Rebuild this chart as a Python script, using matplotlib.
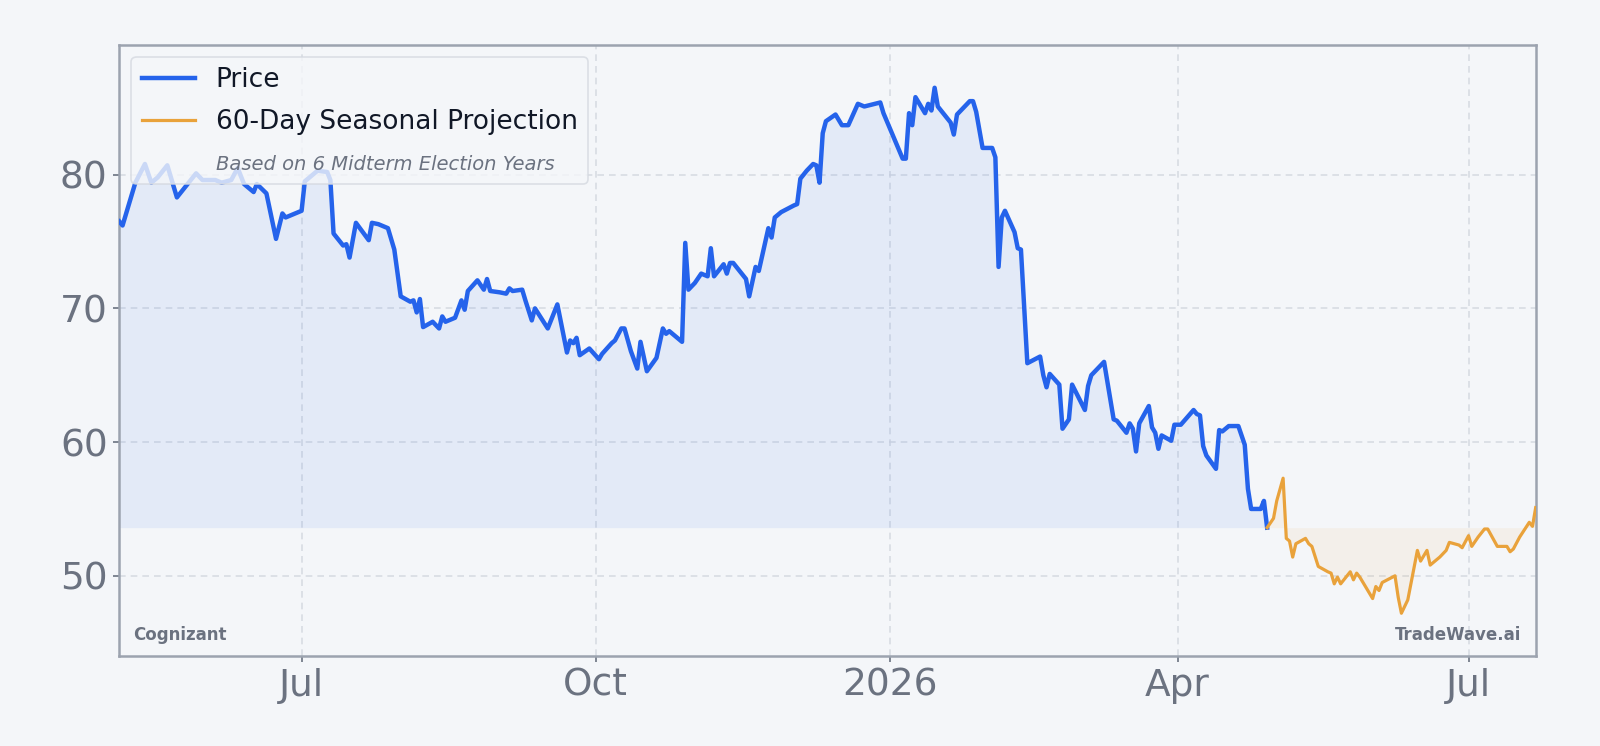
import numpy as np
import pandas as pd
import matplotlib
matplotlib.use("Agg")
import matplotlib.pyplot as plt
import matplotlib.dates as mdates
from matplotlib.lines import Line2D
from matplotlib.ticker import MultipleLocator, FuncFormatter

# price history
price_dates = [
    "2025-05-05", "2025-05-06", "2025-05-10", "2025-05-13", "2025-05-15", "2025-05-17",
    "2025-05-20", "2025-05-23", "2025-05-29", "2025-05-31", "2025-06-04", "2025-06-06",
    "2025-06-09", "2025-06-11", "2025-06-13", "2025-06-16", "2025-06-17", "2025-06-20",
    "2025-06-23", "2025-06-25", "2025-06-26", "2025-06-28", "2025-07-01", "2025-07-02",
    "2025-07-06", "2025-07-09", "2025-07-10", "2025-07-11", "2025-07-14", "2025-07-15",
    "2025-07-16", "2025-07-18", "2025-07-22", "2025-07-23", "2025-07-25", "2025-07-28",
    "2025-07-30", "2025-08-01", "2025-08-04", "2025-08-05", "2025-08-06", "2025-08-07",
    "2025-08-08", "2025-08-11", "2025-08-13", "2025-08-14", "2025-08-15", "2025-08-18",
    "2025-08-20", "2025-08-21", "2025-08-22", "2025-08-25", "2025-08-27", "2025-08-28",
    "2025-08-29", "2025-09-01", "2025-09-03", "2025-09-04", "2025-09-05", "2025-09-08",
    "2025-09-09", "2025-09-11", "2025-09-12", "2025-09-16", "2025-09-19", "2025-09-22",
    "2025-09-23", "2025-09-24", "2025-09-25", "2025-09-26", "2025-09-29", "2025-10-02",
    "2025-10-03", "2025-10-06", "2025-10-07", "2025-10-09", "2025-10-10", "2025-10-12",
    "2025-10-14", "2025-10-15", "2025-10-17", "2025-10-20", "2025-10-22", "2025-10-23",
    "2025-10-24", "2025-10-28", "2025-10-29", "2025-10-30", "2025-11-01", "2025-11-03",
    "2025-11-05", "2025-11-06", "2025-11-07", "2025-11-10", "2025-11-11", "2025-11-12",
    "2025-11-13", "2025-11-17", "2025-11-18", "2025-11-20", "2025-11-21", "2025-11-24",
    "2025-11-25", "2025-11-26", "2025-11-28", "2025-12-02", "2025-12-03", "2025-12-04",
    "2025-12-06", "2025-12-08", "2025-12-09", "2025-12-10", "2025-12-11", "2025-12-12",
    "2025-12-15", "2025-12-17", "2025-12-19", "2025-12-22", "2025-12-24", "2025-12-29",
    "2025-12-30", "2026-01-05", "2026-01-06", "2026-01-07", "2026-01-08", "2026-01-09",
    "2026-01-12", "2026-01-13", "2026-01-14", "2026-01-15", "2026-01-16", "2026-01-20",
    "2026-01-21", "2026-01-22", "2026-01-26", "2026-01-27", "2026-01-28", "2026-01-30",
    "2026-02-02", "2026-02-03", "2026-02-04", "2026-02-05", "2026-02-06", "2026-02-09",
    "2026-02-10", "2026-02-11", "2026-02-13", "2026-02-17", "2026-02-18", "2026-02-19",
    "2026-02-20", "2026-02-23", "2026-02-24", "2026-02-26", "2026-02-27", "2026-03-03",
    "2026-03-04", "2026-03-05", "2026-03-09", "2026-03-12", "2026-03-13", "2026-03-16",
    "2026-03-17", "2026-03-18", "2026-03-19", "2026-03-20", "2026-03-23", "2026-03-24",
    "2026-03-25", "2026-03-26", "2026-03-27", "2026-03-30", "2026-03-31", "2026-04-02",
    "2026-04-06", "2026-04-07", "2026-04-08", "2026-04-09", "2026-04-10", "2026-04-13",
    "2026-04-14", "2026-04-15", "2026-04-17", "2026-04-20", "2026-04-22", "2026-04-23",
    "2026-04-24", "2026-04-27", "2026-04-28", "2026-04-29",
]
price_vals = [
    76.5, 76.2, 79.4, 80.8, 79.4, 79.8,
    80.7, 78.3, 80.1, 79.6, 79.6, 79.4,
    79.6, 80.5, 79.3, 78.7, 79.3, 78.6,
    75.2, 77.1, 76.8, 77.0, 77.3, 79.5,
    80.3, 80.2, 79.6, 75.6, 74.7, 74.8,
    73.8, 76.4, 75.1, 76.4, 76.3, 76.0,
    74.4, 70.9, 70.5, 70.6, 69.7, 70.7,
    68.6, 69.0, 68.5, 69.4, 69.0, 69.3,
    70.6, 69.9, 71.3, 72.1, 71.4, 72.2,
    71.3, 71.2, 71.1, 71.5, 71.3, 71.4,
    70.6, 69.1, 70.0, 68.5, 70.3, 66.7,
    67.6, 67.4, 67.8, 66.5, 67.0, 66.2,
    66.6, 67.4, 67.6, 68.5, 68.5, 66.8,
    65.5, 67.5, 65.3, 66.3, 68.5, 68.1,
    68.3, 67.5, 74.9, 71.4, 71.9, 72.6,
    72.4, 74.5, 72.4, 73.3, 72.6, 73.4,
    73.4, 72.2, 70.9, 73.1, 72.8, 76.0,
    75.3, 76.8, 77.2, 77.7, 77.8, 79.7,
    80.3, 80.8, 80.7, 79.4, 83.1, 84.0,
    84.5, 83.7, 83.7, 85.3, 85.1, 85.4,
    84.6, 81.2, 81.2, 84.6, 83.7, 85.8,
    84.6, 85.3, 84.8, 86.5, 85.1, 83.9,
    83.0, 84.5, 85.5, 85.5, 84.7, 82.0,
    82.0, 81.3, 73.1, 76.8, 77.3, 75.7,
    74.5, 74.4, 65.9, 66.4, 65.0, 64.1,
    65.1, 64.3, 61.0, 61.7, 64.3, 62.4,
    64.2, 65.0, 66.0, 61.7, 61.6, 60.7,
    61.4, 61.0, 59.3, 61.4, 62.7, 61.1,
    60.7, 59.5, 60.5, 60.1, 61.3, 61.3,
    62.4, 62.1, 62.0, 59.7, 59.0, 58.0,
    60.9, 60.8, 61.2, 61.2, 59.8, 56.5,
    55.0, 55.0, 55.6, 53.6,
]

# 60-day seasonal projection
proj_dates = [
    "2026-04-29", "2026-05-01", "2026-05-02", "2026-05-04", "2026-05-05", "2026-05-06",
    "2026-05-07", "2026-05-08", "2026-05-11", "2026-05-12", "2026-05-13", "2026-05-15",
    "2026-05-18", "2026-05-19", "2026-05-20", "2026-05-21", "2026-05-22", "2026-05-25",
    "2026-05-26", "2026-05-27", "2026-05-28", "2026-06-01", "2026-06-02", "2026-06-03",
    "2026-06-04", "2026-06-08", "2026-06-09", "2026-06-10", "2026-06-12", "2026-06-15",
    "2026-06-16", "2026-06-18", "2026-06-19", "2026-06-22", "2026-06-24", "2026-06-25",
    "2026-06-28", "2026-06-29", "2026-07-01", "2026-07-02", "2026-07-04", "2026-07-06",
    "2026-07-07", "2026-07-10", "2026-07-13", "2026-07-14", "2026-07-15", "2026-07-17",
    "2026-07-20", "2026-07-21", "2026-07-22",
]
proj_vals = [
    53.6, 54.3, 55.6, 57.3, 52.8, 52.6,
    51.4, 52.4, 52.8, 52.4, 52.2, 50.7,
    50.3, 50.2, 49.4, 49.9, 49.4, 50.3,
    49.7, 50.2, 49.9, 48.3, 49.2, 48.9,
    49.5, 50.0, 48.4, 47.2, 48.2, 51.9,
    51.1, 51.9, 50.8, 51.4, 51.9, 52.5,
    52.3, 52.1, 53.0, 52.2, 52.9, 53.5,
    53.5, 52.2, 52.2, 51.8, 52.0, 52.9,
    54.0, 53.7, 55.1,
]

ticker_name = "Cognizant"
brand = "TradeWave.ai"

BG = "#f4f6f9"
BLUE = "#2563eb"
ORANGE = "#e9a23b"
GRAY = "#6b7280"

pdates = pd.to_datetime(price_dates)
prdates = pd.to_datetime(proj_dates)
price = np.array(price_vals)
proj = np.array(proj_vals)
base = price[-1]

fig = plt.figure(figsize=(8, 3.73), dpi=200, facecolor=BG)
ax = fig.add_axes([0.0746, 0.1206, 0.8852, 0.8191])
ax.set_facecolor(BG)

ax.fill_between(pdates, price, base, color=BLUE, alpha=0.08, lw=0)
ax.fill_between(prdates, proj, base, color=ORANGE, alpha=0.08, lw=0)
ax.plot(pdates, price, color=BLUE, lw=1.6, zorder=3)
ax.plot(prdates, proj, color=ORANGE, lw=1.15, zorder=3)

ax.set_xlim(pdates[0], prdates[-1])
ax.set_ylim(44.0, 89.7)
ax.yaxis.set_major_locator(MultipleLocator(10))
ax.xaxis.set_major_locator(mdates.MonthLocator(bymonth=[1, 4, 7, 10]))


def fmt_date(x, pos=None):
    d = mdates.num2date(x)
    return str(d.year) if d.month == 1 else d.strftime("%b")


ax.xaxis.set_major_formatter(FuncFormatter(fmt_date))
ax.tick_params(labelsize=13.5, colors=GRAY, length=2, width=0.6, pad=2.2)
ax.grid(True, ls=(0, (4, 3)), color="#d5d9e0", lw=0.6, alpha=0.9)
ax.set_axisbelow(True)
for s in ax.spines.values():
    s.set_color("#9ca3af")
    s.set_linewidth(0.9)

handles = [
    Line2D([], [], color=BLUE, lw=1.6),
    Line2D([], [], color=ORANGE, lw=1.15),
    Line2D([], [], color="none"),
]
labels = ["Price", "60-Day Seasonal Projection", "Based on 6 Midterm Election Years"]
leg = ax.legend(handles, labels, loc="upper left", fontsize=9.5, frameon=True,
                facecolor=BG, edgecolor="#d5d9e0", framealpha=0.8,
                borderaxespad=0.45, labelspacing=0.6, handletextpad=0.8)
leg.get_frame().set_linewidth(0.6)
sub = leg.get_texts()[2]
sub.set_fontsize(7)
sub.set_style("italic")
sub.set_color(GRAY)
for t in leg.get_texts()[:2]:
    t.set_color("#111827")

ax.text(0.010, 0.035, ticker_name, transform=ax.transAxes, fontsize=6.0,
        fontweight="bold", color=GRAY, ha="left", va="center")
ax.text(0.990, 0.035, brand, transform=ax.transAxes, fontsize=6.0,
        fontweight="bold", color=GRAY, ha="right", va="center")

fig.savefig("out.png", dpi=200, facecolor=BG)
